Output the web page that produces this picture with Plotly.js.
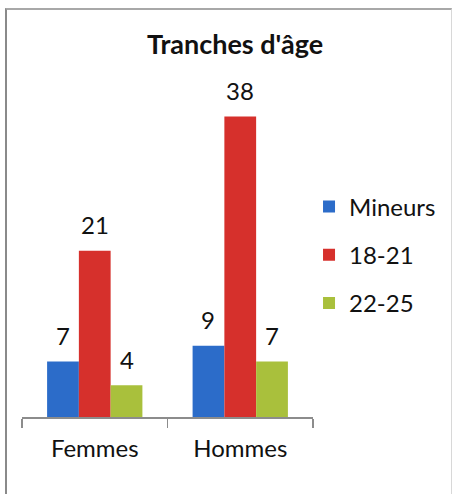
<!DOCTYPE html>
<html>
<head>
<meta charset="utf-8">
<script src="https://cdn.plot.ly/plotly-3.0.1.min.js"></script>
<style>
  html, body { margin: 0; padding: 0; background: #fff; }
  #chart { position: absolute; left: 0; top: 0; width: 453px; height: 494px; }
  #frame { position: absolute; left: 5px; top: 8px; width: 444px; height: 490px;
           border-left: 2px solid #8a8a8a; border-top: 2px solid #a8a8a8; border-right: 1px solid #d8d8d8;
           pointer-events: none; }
</style>
</head>
<body>
<div id="chart"></div>
<div id="frame"></div>
<script>
const categories = ["Femmes", "Hommes"];
const seriesNames = ["Mineurs", "18-21", "22-25"];
const mineurs = [7, 9];
const age18_21 = [21, 38];
const age22_25 = [4, 7];
const chartTitle = "Tranches d'âge";

const seriesValues = [mineurs, age18_21, age22_25];
const colors = ["#2c6cc9", "#d6302c", "#a9c03c"];
const font = "Lato, 'Open Sans', sans-serif";

const W = 453, H = 494;
const margin = {l: 22, r: 138, t: 61, b: 77, pad: 0};
const bargap = 0.345;
const plotW = W - margin.l - margin.r;
const catW = plotW / categories.length;
const barW = catW * (1 - bargap) / seriesNames.length;

const traces = seriesNames.map((name, i) => ({
  type: "bar",
  name: name,
  x: categories,
  y: seriesValues[i],
  marker: {color: colors[i]},
  legendgroup: name,
  hoverinfo: "none"
}));

const annotations = [];
seriesValues.forEach((vals, i) => {
  vals.forEach((v, j) => {
    annotations.push({
      x: categories[j], y: v, xref: "x", yref: "y",
      text: String(v), showarrow: false,
      xshift: (i - (seriesNames.length - 1) / 2) * barW,
      yshift: 26, yanchor: "middle", xanchor: "center",
      font: {family: font, size: 24, color: "#111111"}
    });
  });
});

const layout = {
  width: W, height: H,
  margin: margin,
  paper_bgcolor: "#ffffff", plot_bgcolor: "#ffffff",
  font: {family: font, color: "#111111"},
  title: {
    text: "<b>" + chartTitle + "</b>",
    font: {family: font, size: 27, color: "#111111"},
    x: 235 / W, xanchor: "center", xref: "container",
    y: 1 - 45 / H, yanchor: "middle", yref: "container"
  },
  barmode: "group",
  bargap: bargap,
  bargroupgap: 0,
  xaxis: {
    type: "category",
    showline: true, linecolor: "#8c8c8c", linewidth: 1.5,
    ticks: "outside", ticklen: 9, tickcolor: "#8c8c8c", tickwidth: 1.5,
    tickson: "boundaries",
    showgrid: false, zeroline: false,
    tickfont: {family: font, size: 24, color: "#111111"},
    ticklabelstandoff: 10,
    fixedrange: true
  },
  yaxis: {
    visible: false, range: [0, 45], showgrid: false, zeroline: false, fixedrange: true
  },
  showlegend: true,
  legend: {
    x: (311 - margin.l) / plotW, xanchor: "left", xref: "paper",
    y: 0.455, yanchor: "middle",
    traceorder: "grouped", tracegroupgap: 14,
    font: {family: font, size: 24, color: "#111111"},
    itemwidth: 30, bgcolor: "rgba(0,0,0,0)"
  },
  annotations: annotations
};

Plotly.newPlot("chart", traces, layout, {displayModeBar: false, staticPlot: true});
</script>
</body>
</html>
